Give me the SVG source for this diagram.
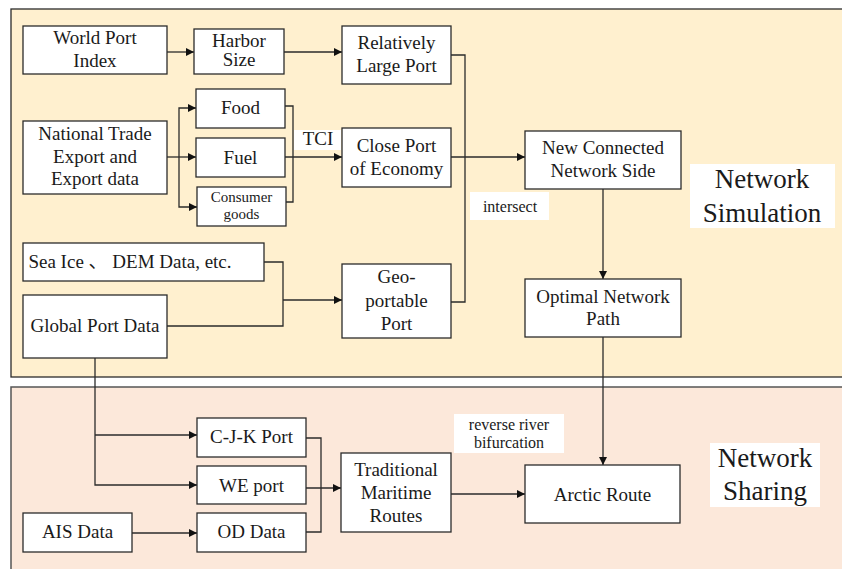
<svg xmlns="http://www.w3.org/2000/svg" width="842" height="569" viewBox="0 0 842 569" font-family="Liberation Serif, Times New Roman, serif">
<style>
.node rect{fill:#fff;stroke:#2b2b2b;stroke-width:1.3}
text{fill:#1a1a1a;text-anchor:middle}
.t{font-size:19px}
.s{font-size:16px}
.xs{font-size:15px}
.big{font-size:27px}
.lbl{fill:#fff}
#connectors path{fill:none;stroke:#2b2b2b;stroke-width:1.3}
</style>
<defs>
<marker id="ar" viewBox="0 0 10 10" refX="10" refY="5" markerWidth="8" markerHeight="8" markerUnits="userSpaceOnUse" orient="auto">
<path d="M0,0 L10,5 L0,10 z" fill="#111"/>
</marker>
</defs>
<rect width="842" height="569" fill="#fff"/>
<g id="panel-sim">
<rect x="11" y="9" width="840" height="368" fill="#fff0cf" stroke="#2b2b2b" stroke-width="1.3"/>
</g>
<g id="panel-share">
<rect x="11" y="387" width="840" height="190" fill="#fce8da" stroke="#555" stroke-width="1.5"/>
</g>
<g id="connectors">
<path d="M167,52 H194" marker-end="url(#ar)"/>
<path d="M284,52 H342" marker-end="url(#ar)"/>
<path d="M167,157 H196" marker-end="url(#ar)"/>
<path d="M179,157 V108 H196" marker-end="url(#ar)"/>
<path d="M179,157 V207 H197" marker-end="url(#ar)"/>
<path d="M285,106 H293 V202 H286"/>
<path d="M285,157 H342" marker-end="url(#ar)"/>
<path d="M451,55 H465 V302 H451"/>
<path d="M451,157 H525" marker-end="url(#ar)"/>
<path d="M264,262 H283 V326 H167"/>
<path d="M283,300 H342" marker-end="url(#ar)"/>
<path d="M603,189 V279" marker-end="url(#ar)"/>
<path d="M603,337 V465" marker-end="url(#ar)"/>
<path d="M95,358 V485 H197" marker-end="url(#ar)"/>
<path d="M95,435 H197" marker-end="url(#ar)"/>
<path d="M132,533 H197" marker-end="url(#ar)"/>
<path d="M306,438 H321 V532 H306"/>
<path d="M306,488 H341" marker-end="url(#ar)"/>
<path d="M451,494 H525" marker-end="url(#ar)"/>
</g>
<g id="labels">
<rect class="lbl" x="294" y="130" width="47" height="20"/>
<text class="t" x="318" y="145">TCI</text>
<rect class="lbl" x="470" y="192" width="79" height="28"/>
<text class="s" x="510" y="212">intersect</text>
<rect class="lbl" x="454" y="414" width="110" height="39"/>
<text class="s" x="509" y="430">reverse river</text>
<text class="s" x="509" y="448">bifurcation</text>
<rect class="lbl" x="690" y="164" width="145" height="64"/>
<text class="big" x="762" y="188">Network</text>
<text class="big" x="762" y="222">Simulation</text>
<rect class="lbl" x="710" y="443" width="110" height="64"/>
<text class="big" x="765" y="467">Network</text>
<text class="big" x="765" y="500">Sharing</text>
</g>
<g id="wpi" class="node"><rect x="23" y="26" width="144" height="48"/><text class="t" x="95" y="44">World Port</text><text class="t" x="95" y="66.5">Index</text></g>
<g id="harbor" class="node"><rect x="194" y="29" width="90" height="45"/><text class="t" x="239" y="47">Harbor</text><text class="t" x="239" y="66">Size</text></g>
<g id="rlp" class="node"><rect x="342" y="26" width="109" height="58"/><text class="t" x="396.5" y="49">Relatively</text><text class="t" x="396.5" y="71.5">Large Port</text></g>
<g id="ntd" class="node"><rect x="23" y="121" width="144" height="73"/><text class="t" x="95" y="140">National Trade</text><text class="t" x="95" y="163">Export and</text><text class="t" x="95" y="185">Export data</text></g>
<g id="food" class="node"><rect x="196" y="89" width="89" height="39"/><text class="t" x="240.5" y="114">Food</text></g>
<g id="fuel" class="node"><rect x="196" y="138" width="89" height="39"/><text class="t" x="240.5" y="164">Fuel</text></g>
<g id="consumer" class="node"><rect x="197" y="187" width="89" height="39"/><text class="xs" x="241.5" y="202">Consumer</text><text class="xs" x="241.5" y="219">goods</text></g>
<g id="cpe" class="node"><rect x="342" y="128" width="109" height="59"/><text class="t" x="396.5" y="151.5">Close Port</text><text class="t" x="396.5" y="175">of Economy</text></g>
<g id="ncns" class="node"><rect x="525" y="131" width="156" height="58"/><text class="t" x="603" y="154">New Connected</text><text class="t" x="603" y="176.5">Network Side</text></g>
<g id="seaice" class="node"><rect x="23" y="243" width="241" height="38"/><text class="t" x="130" y="268" font-family="Liberation Serif, Noto Sans CJK SC, serif">Sea Ice 、 DEM  Data, etc.</text></g>
<g id="gpd" class="node"><rect x="23" y="295" width="144" height="63"/><text class="t" x="95" y="331.5">Global Port Data</text></g>
<g id="geo" class="node"><rect x="342" y="264" width="109" height="74"/><text class="t" x="396.5" y="283">Geo-</text><text class="t" x="396.5" y="306.5">portable</text><text class="t" x="396.5" y="330">Port</text></g>
<g id="onp" class="node"><rect x="525" y="279" width="156" height="58"/><text class="t" x="603" y="303">Optimal Network</text><text class="t" x="603" y="325">Path</text></g>
<g id="cjk" class="node"><rect x="197" y="418" width="109" height="39"/><text class="t" x="251.5" y="443">C-J-K Port</text></g>
<g id="we" class="node"><rect x="197" y="466" width="109" height="38"/><text class="t" x="251.5" y="491.5">WE port</text></g>
<g id="od" class="node"><rect x="197" y="513" width="109" height="39"/><text class="t" x="251.5" y="538">OD Data</text></g>
<g id="ais" class="node"><rect x="23" y="513" width="109" height="39"/><text class="t" x="77.5" y="538">AIS Data</text></g>
<g id="tmr" class="node"><rect x="341" y="453" width="110" height="79"/><text class="t" x="396" y="476">Traditional</text><text class="t" x="396" y="499">Maritime</text><text class="t" x="396" y="522">Routes</text></g>
<g id="arctic" class="node"><rect x="525" y="465" width="155" height="58"/><text class="t" x="602.5" y="500.5">Arctic Route</text></g>
</svg>
